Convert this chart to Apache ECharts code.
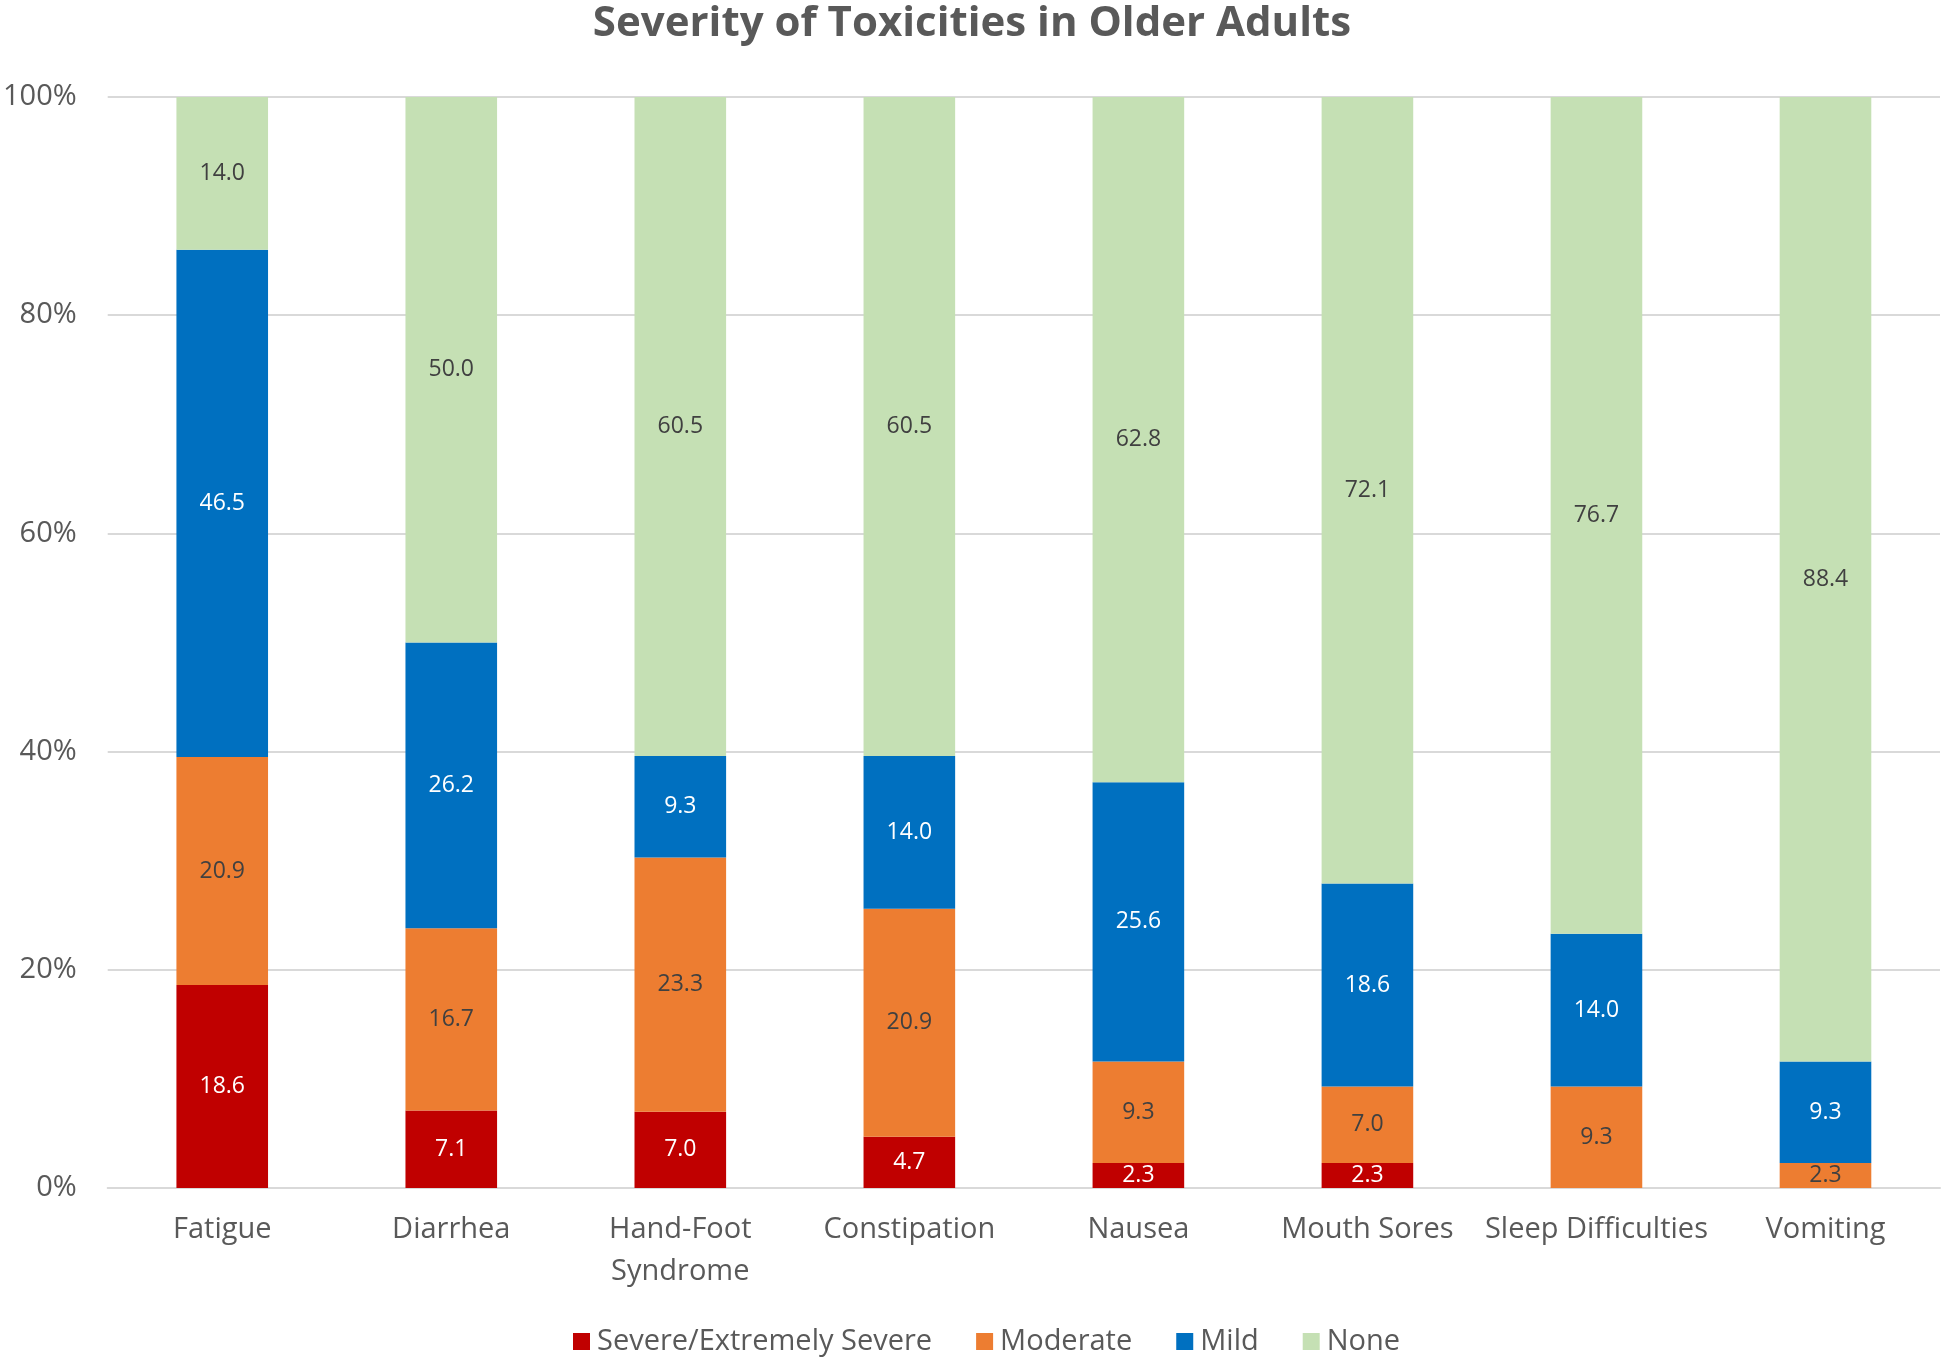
<!DOCTYPE html>
<html>
<head>
<meta charset="utf-8">
<script src="https://cdn.jsdelivr.net/npm/echarts@6/dist/echarts.min.js"></script>
<style>
html,body{margin:0;padding:0;background:#fff;}
#chart{width:1944px;height:1363px;}
</style>
</head>
<body>
<div id="chart"></div>
<script>
const categories = ['Fatigue','Diarrhea','Hand-Foot\nSyndrome','Constipation','Nausea','Mouth Sores','Sleep Difficulties','Vomiting'];
const severe   = [18.6, 7.1, 7.0, 4.7, 2.3, 2.3, null, null];
const moderate = [20.9, 16.7, 23.3, 20.9, 9.3, 7.0, 9.3, 2.3];
const mild     = [46.5, 26.2, 9.3, 14.0, 25.6, 18.6, 14.0, 9.3];
const none     = [14.0, 50.0, 60.5, 60.5, 62.8, 72.1, 76.7, 88.4];
const yTicks = [0, 20, 40, 60, 80, 100];

const FONT = 'Open Sans';
const chart = echarts.init(document.getElementById('chart'));

function mk(name, data, color, labelColor) {
  return {
    name: name, type: 'bar', stack: 'total', data: data,
    barWidth: '40%',
    itemStyle: { color: color },
    label: {
      show: true, position: 'inside', color: labelColor,
      fontFamily: FONT, fontSize: 23,
      formatter: p => (p.value == null ? '' : Number(p.value).toFixed(1))
    },
    emphasis: { disabled: true }
  };
}

chart.setOption({
  animation: false,
  title: {
    text: 'Severity of Toxicities in Older Adults',
    left: 'center', top: -2,
    textStyle: { fontFamily: FONT, fontWeight: 'bold', fontSize: 42, color: '#595959' }
  },
  legend: {
    bottom: 2, left: 568,
    itemWidth: 17, itemHeight: 17, itemGap: 44,
    icon: 'rect',
    textStyle: { fontFamily: FONT, fontSize: 29, color: '#595959', padding: [0,0,0,2] },
    data: ['Severe/Extremely Severe','Moderate','Mild','None']
  },
  grid: { left: 105, right: 4, top: 97, bottom: 175, containLabel: false },
  xAxis: {
    type: 'category', data: categories,
    axisLine: { lineStyle: { color: '#d9d9d9', width: 2 } },
    axisTick: { show: false },
    axisLabel: { fontFamily: FONT, fontSize: 29, color: '#595959', margin: 21, lineHeight: 42, interval: 0 }
  },
  yAxis: {
    type: 'value', min: 0, max: 100, interval: 20,
    axisLine: { show: false }, axisTick: { show: false },
    splitLine: { lineStyle: { color: '#d9d9d9', width: 2 } },
    axisLabel: {
      fontFamily: FONT, fontSize: 29, color: '#595959', margin: 31,
      formatter: v => (yTicks.includes(v) ? v + '%' : '')
    }
  },
  series: [
    mk('Severe/Extremely Severe', severe, '#C00000', '#ffffff'),
    mk('Moderate', moderate, '#ED7D31', '#404040'),
    mk('Mild', mild, '#0070C0', '#ffffff'),
    mk('None', none, '#C5E0B4', '#404040')
  ]
});
</script>
</body>
</html>
